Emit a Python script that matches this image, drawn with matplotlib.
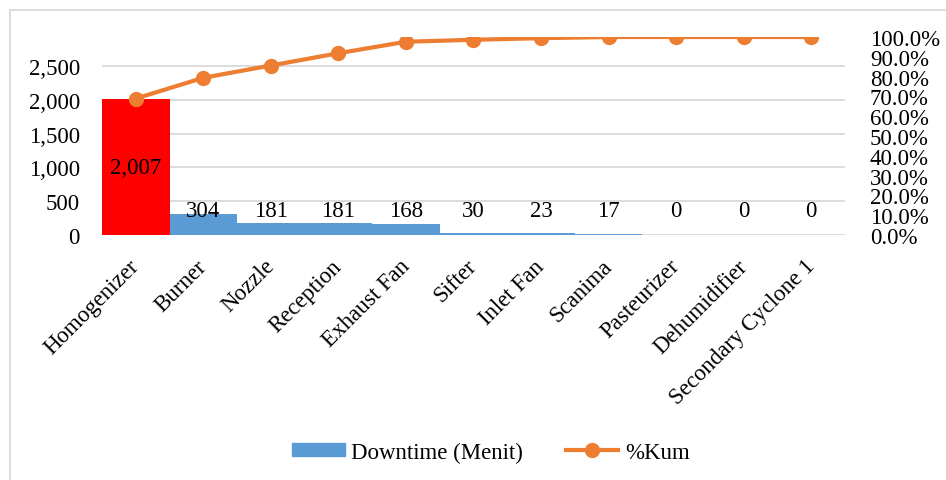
import matplotlib.pyplot as plt
import matplotlib.transforms as mtrans
from matplotlib.lines import Line2D
from matplotlib.patches import Patch
from matplotlib.ticker import FuncFormatter, MultipleLocator

plt.rcParams['font.family'] = ['Liberation Serif', 'DejaVu Serif']

# data
machines = ['Homogenizer', 'Burner', 'Nozzle', 'Reception', 'Exhaust Fan', 'Sifter',
            'Inlet Fan', 'Scanima', 'Pasteurizer', 'Dehumidifier', 'Secondary Cyclone 1']
downtime = [2007, 304, 181, 181, 168, 30, 23, 17, 0, 0, 0]
cum_pct = [0.689, 0.794, 0.856, 0.918, 0.976, 0.986, 0.994, 1.0, 1.0, 1.0, 1.0]

blue = '#5B9BD5'
red = '#FF0000'
orange = '#ED7D31'
fs = 16.5

fig = plt.figure(figsize=(9.46, 4.81), dpi=100)
ax = fig.add_axes([0.1078, 0.5094, 0.7854, 0.4116])

x = list(range(len(machines)))
colors = [red] + [blue] * (len(machines) - 1)
ax.bar(x, downtime, width=1.0, color=colors, zorder=2)
ax.set_xlim(-0.5, len(machines) - 0.5)
ax.set_ylim(0, 2930)
ax.yaxis.set_major_locator(MultipleLocator(500))
ax.yaxis.set_major_formatter(FuncFormatter(lambda v, p: f'{int(v):,}' if v <= 2500 else ''))
ax.grid(axis='y', color='#D9D9D9', linewidth=1.3, zorder=0)
ax.set_axisbelow(True)
for s in ax.spines.values():
    s.set_visible(False)
ax.tick_params(axis='y', length=0, pad=16, labelsize=fs)
ax.tick_params(axis='x', length=0, pad=6)
ax.set_xticks(x)
ax.set_xticklabels(machines, rotation=45, ha='right', rotation_mode='anchor', fontsize=fs)
# nudge rotated labels a bit left/down like the original
shift = mtrans.ScaledTranslation(-0.07, -0.12, fig.dpi_scale_trans)
for lbl in ax.get_xticklabels():
    lbl.set_transform(lbl.get_transform() + shift)

# data labels
for i, v in enumerate(downtime):
    yy = v / 2 if i == 0 else 355
    ax.text(i, yy, f'{v:,}', ha='center', va='center', fontsize=fs, zorder=5)

ax2 = ax.twinx()
ax2.plot(x, cum_pct, color=orange, linewidth=3, marker='o', markersize=10, zorder=4)
ax2.set_ylim(0, 1.0)
ax2.yaxis.set_major_locator(MultipleLocator(0.1))
ax2.yaxis.set_major_formatter(FuncFormatter(lambda v, p: f'{v * 100:.1f}%'))
ax2.tick_params(axis='y', length=0, pad=18, labelsize=fs)
for s in ax2.spines.values():
    s.set_visible(False)

# outer chart border (top and left visible)
fig.add_artist(Line2D([0.0106, 0.0106], [0, 0.977], transform=fig.transFigure, color='#D9D9D9', linewidth=1.3))
fig.add_artist(Line2D([0.0106, 1.0], [0.977, 0.977], transform=fig.transFigure, color='#D9D9D9', linewidth=1.3))

handles = [Patch(color=blue, label='Downtime (Menit)'),
           Line2D([0], [0], color=orange, linewidth=3, marker='o', markersize=10, label='%Kum')]
fig.legend(handles=handles, loc='center', bbox_to_anchor=(0.519, 0.058), ncol=2, frameon=False,
           fontsize=fs, handlelength=2.3, handleheight=0.5, handletextpad=0.3, columnspacing=1.85)

fig.savefig('out.png', dpi=100)
